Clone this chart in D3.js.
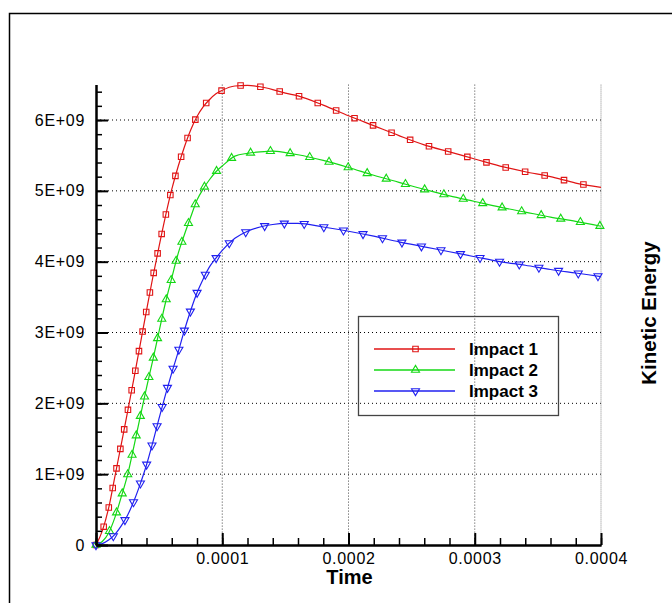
<!DOCTYPE html>
<html>
<head>
<meta charset="utf-8">
<script src="https://cdn.jsdelivr.net/npm/d3@7/dist/d3.min.js"></script>
<style>
  html, body { margin: 0; padding: 0; background: #fff; }
  svg { display: block; }
  .tick text { font-family: "Liberation Sans", Arial, sans-serif; font-size: 16px; letter-spacing: 0.7px; fill: #000; }
</style>
</head>
<body>
<svg id="chart" width="672" height="603"></svg>
<script>
// Simulation time (s)
const times = [0, 0.5e-5, 1e-5, 1.5e-5, 2e-5, 2.5e-5, 3e-5, 3.5e-5, 4e-5, 4.5e-5,
  5e-5, 5.5e-5, 6e-5, 6.5e-5, 7e-5, 7.5e-5, 8e-5, 8.5e-5, 9e-5, 9.5e-5,
  1e-4, 1.1e-4, 1.2e-4, 1.3e-4, 1.4e-4, 1.5e-4, 1.6e-4, 1.8e-4, 2e-4, 2.2e-4,
  2.4e-4, 2.6e-4, 2.8e-4, 3e-4, 3.2e-4, 3.4e-4, 3.6e-4, 3.8e-4, 4e-4];

// Kinetic energy per impact case
const impact1 = [0, 0.20e9, 0.52e9, 0.97e9, 1.42e9, 1.88e9, 2.35e9, 2.83e9, 3.31e9, 3.78e9,
  4.22e9, 4.64e9, 5.02e9, 5.34e9, 5.62e9, 5.86e9, 6.05e9, 6.19e9, 6.29e9, 6.37e9,
  6.42e9, 6.48e9, 6.49e9, 6.47e9, 6.43e9, 6.38e9, 6.34e9, 6.21e9, 6.06e9, 5.92e9,
  5.78e9, 5.65e9, 5.55e9, 5.45e9, 5.35e9, 5.27e9, 5.20e9, 5.11e9, 5.05e9];
const impact2 = [0, 0.05e9, 0.17e9, 0.39e9, 0.68e9, 0.99e9, 1.39e9, 1.81e9, 2.22e9, 2.61e9,
  3.02e9, 3.42e9, 3.77e9, 4.11e9, 4.38e9, 4.63e9, 4.87e9, 5.03e9, 5.16e9, 5.27e9,
  5.35e9, 5.49e9, 5.53e9, 5.55e9, 5.56e9, 5.54e9, 5.51e9, 5.43e9, 5.33e9, 5.22e9,
  5.12e9, 5.02e9, 4.93e9, 4.85e9, 4.77e9, 4.70e9, 4.63e9, 4.57e9, 4.50e9];
const impact3 = [0, 0.02e9, 0.07e9, 0.15e9, 0.27e9, 0.42e9, 0.62e9, 0.86e9, 1.13e9, 1.45e9,
  1.79e9, 2.12e9, 2.43e9, 2.72e9, 3.03e9, 3.31e9, 3.56e9, 3.76e9, 3.93e9, 4.05e9,
  4.16e9, 4.33e9, 4.43e9, 4.49e9, 4.525e9, 4.54e9, 4.54e9, 4.49e9, 4.43e9, 4.36e9,
  4.28e9, 4.21e9, 4.14e9, 4.07e9, 4.00e9, 3.95e9, 3.89e9, 3.84e9, 3.79e9];

const seriesNames = ["Impact 1", "Impact 2", "Impact 3"];
const xTicks = [1e-4, 2e-4, 3e-4, 4e-4];
const yTicks = [0, 1e9, 2e9, 3e9, 4e9, 5e9, 6e9];

const series = [
  { name: seriesNames[0], values: impact1, color: "#e01414", symbol: "square" },
  { name: seriesNames[1], values: impact2, color: "#14d814", symbol: "up" },
  { name: seriesNames[2], values: impact3, color: "#2020f0", symbol: "down" }
];

const svg = d3.select("#chart");
const x = d3.scaleLinear().domain([0, 4e-4]).range([96, 601]);
const y = d3.scaleLinear().domain([0, 6.5e9]).range([545, 84.6]);

// Frame around the plot area
svg.append("path")
  .attr("d", "M9.5,603 V13.5 H672")
  .attr("fill", "none").attr("stroke", "#000").attr("stroke-width", 1.5);

// Grid
const grid = svg.append("g");
grid.selectAll("line.hg").data(yTicks.filter(v => v > 0)).join("line")
  .attr("x1", x(0)).attr("x2", x(4e-4))
  .attr("y1", d => y(d)).attr("y2", d => y(d))
  .attr("stroke", "#000").attr("stroke-width", 1).attr("stroke-dasharray", "1,3");
grid.selectAll("line.vg").data(xTicks).join("line")
  .attr("x1", d => x(d)).attr("x2", d => x(d))
  .attr("y1", y(6.5e9)).attr("y2", y(0))
  .attr("stroke", d => d === 4e-4 ? "#888" : "#444").attr("stroke-width", 1)
  .attr("stroke-dasharray", d => d === 4e-4 ? "1,1" : "1,2");

// Curves
const line = d3.line().x(d => x(d[0])).y(d => y(d[1])).curve(d3.curveMonotoneX);
const symbolGen = {
  square: d3.symbol().type(d3.symbolSquare).size(30),
  up: d3.symbol().type(d3.symbolTriangle).size(28),
  down: d3.symbol().type(d3.symbolTriangle).size(28)
};

function drawMarker(g, s, px, py) {
  g.append("path")
    .attr("d", symbolGen[s.symbol]())
    .attr("transform", `translate(${px},${py})` + (s.symbol === "down" ? " rotate(180)" : ""))
    .attr("fill", "none").attr("stroke", s.color).attr("stroke-width", 1.1);
}

const curves = svg.append("g");
series.forEach(s => {
  const pts = times.map((t, i) => [t, s.values[i]]);
  const path = curves.append("path")
    .attr("d", line(pts))
    .attr("fill", "none").attr("stroke", s.color).attr("stroke-width", 1.2);
  const node = path.node();
  const total = node.getTotalLength();
  const mg = curves.append("g");
  for (let d = 0; d <= total; d += 19.9) {
    const p = node.getPointAtLength(d);
    drawMarker(mg, s, p.x, p.y);
  }
});

// Axes
const xAxisMinor = d3.axisBottom(x).tickValues(d3.range(0, 21).map(i => i * 2e-5))
  .tickSizeInner(-7).tickSizeOuter(0).tickFormat("");
const xAxis = d3.axisBottom(x).tickValues([0].concat(xTicks))
  .tickSizeInner(-12).tickSizeOuter(0).tickPadding(8)
  .tickFormat(d => d === 0 ? "" : d.toFixed(4));
const yAxisMinor = d3.axisLeft(y).tickValues(d3.range(0, 33).map(i => i * 2e8))
  .tickSizeInner(-6).tickSizeOuter(0).tickFormat("");
const yAxis = d3.axisLeft(y).tickValues(yTicks)
  .tickSizeInner(-12).tickSizeOuter(0).tickPadding(11)
  .tickFormat(d => d === 0 ? "0" : (d / 1e9) + "E+09");

function styleAxis(g) {
  g.select(".domain").attr("stroke", "#000").attr("stroke-width", 2);
  g.selectAll(".tick line").attr("stroke", "#000").attr("stroke-width", 1.5);
}

svg.append("g").attr("transform", `translate(0,${y(0)})`).call(xAxisMinor).call(styleAxis);
svg.append("g").attr("transform", `translate(0,${y(0)})`).call(xAxis).call(styleAxis)
  .selectAll(".tick line").attr("stroke-width", 2);
svg.append("g").attr("transform", `translate(${x(0)},0)`).call(yAxisMinor).call(styleAxis);
svg.append("g").attr("transform", `translate(${x(0)},0)`).call(yAxis).call(styleAxis)
  .selectAll(".tick line").attr("stroke-width", 2);
svg.selectAll(".tick text").attr("font-family", null).attr("font-size", null);

// Axis titles
svg.append("text")
  .attr("x", (x(0) + x(4e-4)) / 2 + 1).attr("y", 584)
  .attr("text-anchor", "middle")
  .style("font-family", "'Liberation Sans', Arial, sans-serif")
  .style("font-size", "20px").style("font-weight", "bold")
  .text("Time");
svg.append("text")
  .attr("transform", "translate(656,313) rotate(-90)")
  .attr("text-anchor", "middle")
  .style("font-family", "'Liberation Sans', Arial, sans-serif")
  .style("font-size", "20.5px").style("font-weight", "bold")
  .text("Kinetic Energy");

// Legend
const legend = svg.append("g");
legend.append("rect")
  .attr("x", 358.5).attr("y", 316.5).attr("width", 200).attr("height", 99)
  .attr("fill", "none").attr("stroke", "#444").attr("stroke-width", 1.3);
series.forEach((s, i) => {
  const ly = 349 + i * 21;
  legend.append("line")
    .attr("x1", 374).attr("x2", 455).attr("y1", ly).attr("y2", ly)
    .attr("stroke", s.color).attr("stroke-width", 1.3);
  drawMarker(legend, s, 415.5, ly);
  legend.append("text")
    .attr("x", 469).attr("y", ly + 6)
    .style("font-family", "'Liberation Sans', Arial, sans-serif")
    .style("font-size", "17px").style("font-weight", "bold")
    .text(s.name);
});
</script>
</body>
</html>
